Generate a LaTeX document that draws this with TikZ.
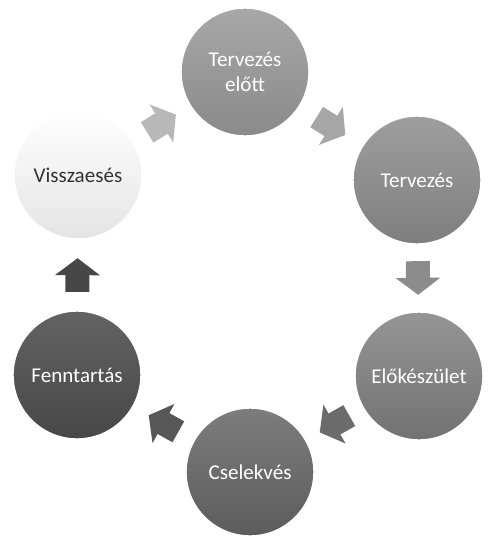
\documentclass[tikz,border=0pt]{standalone}
\usepackage{fontspec}
\setmainfont{Carlito}
\usetikzlibrary{arrows.meta}

\definecolor{phaseA}{HTML}{8A8A8A}
\definecolor{phaseB}{HTML}{7E7E7E}
\definecolor{phaseC}{HTML}{727272}
\definecolor{phaseD}{HTML}{5C5C5C}
\definecolor{phaseE}{HTML}{474747}
\definecolor{phaseF}{HTML}{E4E4E4}

\begin{document}
\begin{tikzpicture}[x=0.02cm, y=-0.02cm, thick]

    % Define styles
    \tikzstyle{phase} = [circle, minimum size=2.56cm, draw=white, line width=0.8pt, text=white, font=\fontsize{12}{14}\selectfont, align=center]
    \tikzstyle{flow} = [line width=0.48cm, -{Triangle[width=0.88cm, length=0.34cm]}]

    \useasboundingbox (0,0) rectangle (487,537);
    \clip (0,0) rectangle (487,537);

    % PHASES
    \node (tervezes_elott) [phase, top color=phaseA!75!white, bottom color=phaseA] at (245,72) {Tervezés\\előtt};
    \node (tervezes) [phase, top color=phaseB!75!white, bottom color=phaseB] at (417,180) {Tervezés};
    \node (elokeszulet) [phase, top color=phaseC!75!white, bottom color=phaseC] at (419,376) {Előkészület};
    \node (cselekves) [phase, top color=phaseD!80!white, bottom color=phaseD] at (250,472) {Cselekvés};
    \node (fenntartas) [phase, top color=phaseE!85!white, bottom color=phaseE] at (77,375) {Fenntartás};
    \node (visszaeses) [phase, top color=white, bottom color=phaseF, text=black!80] at (78,175) {Visszaesés};

    % CONNECTIONS
    \draw[flow, draw=black!28, shorten <=0.33cm, shorten >=0.33cm] (visszaeses) -- (tervezes_elott);
    \draw[flow, draw=black!35, shorten <=0.4cm, shorten >=0.4cm] (tervezes_elott) -- (tervezes);
    \draw[flow, draw=black!45, shorten <=0.33cm, shorten >=0.33cm] (tervezes) -- (elokeszulet);
    \draw[flow, draw=black!58, shorten <=0.31cm, shorten >=0.31cm] (elokeszulet) -- (cselekves);
    \draw[flow, draw=black!66, shorten <=0.35cm, shorten >=0.35cm] (cselekves) -- (fenntartas);
    \draw[flow, draw=black!72, shorten <=0.37cm, shorten >=0.37cm] (fenntartas) -- (visszaeses);

\end{tikzpicture}
\end{document}
